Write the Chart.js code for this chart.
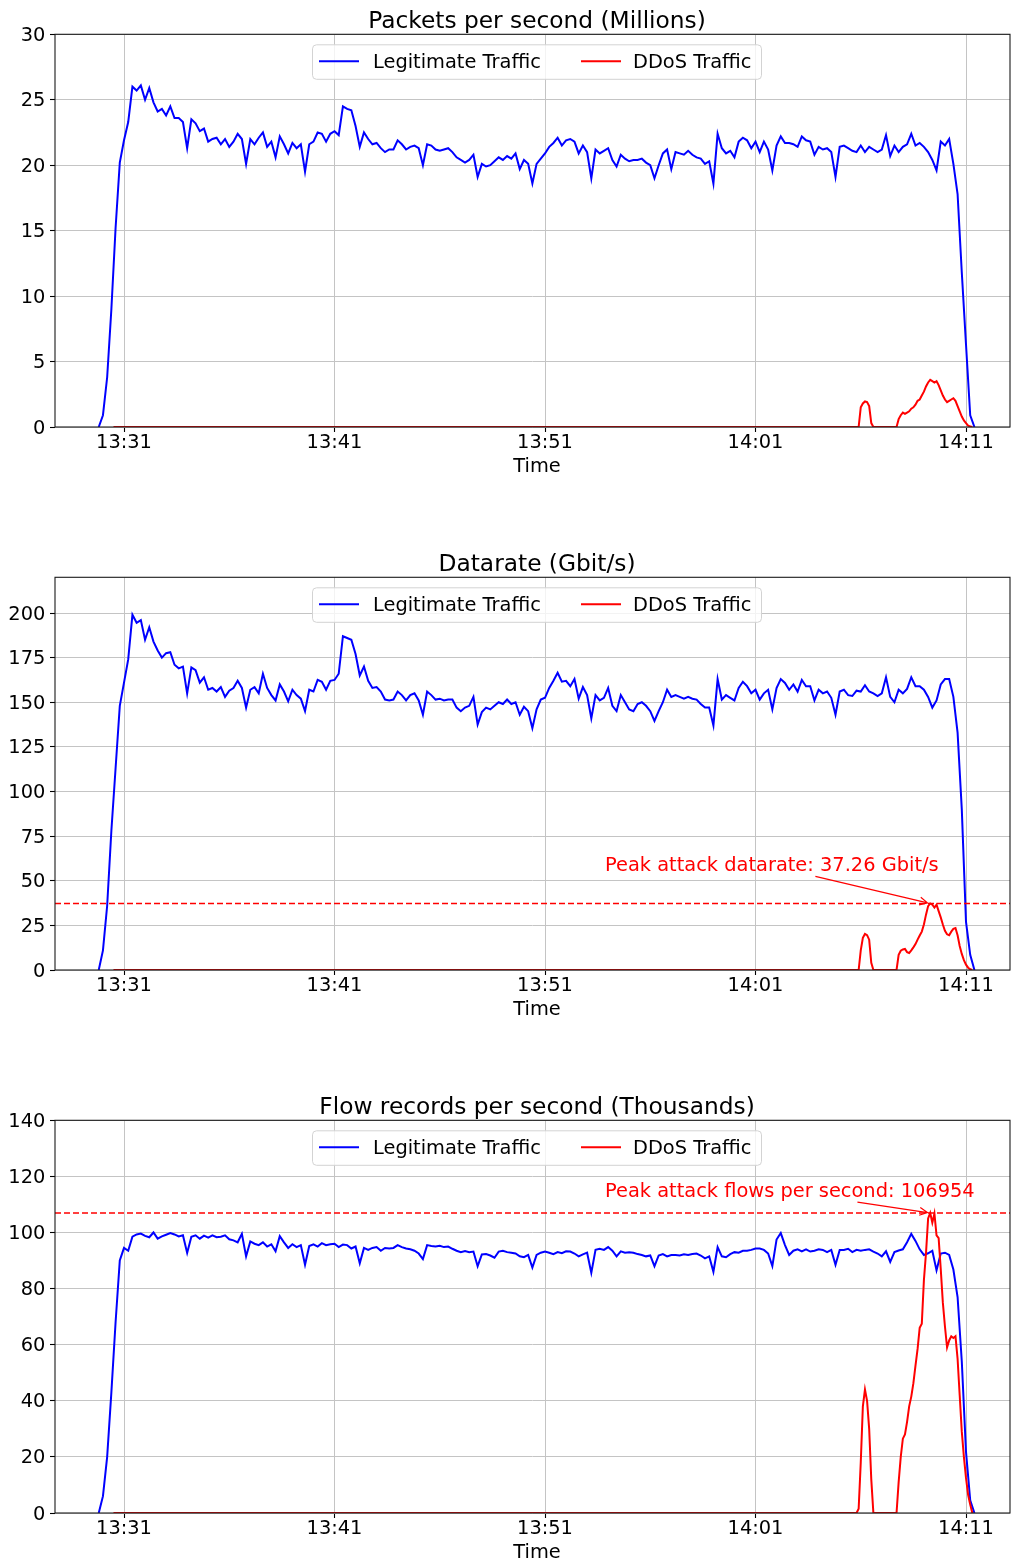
<!DOCTYPE html>
<html>
<head>
<meta charset="utf-8">
<title>Legitimate vs DDoS traffic</title>
<script src="https://cdn.jsdelivr.net/npm/chart.js@4.4.1/dist/chart.umd.min.js"></script>
<style>
  html, body { margin: 0; padding: 0; background: #fff; overflow: hidden; }
  .panel { position: absolute; left: 0; width: 1011px; height: 487px; }
</style>
</head>
<body>
<div class="panel" style="top:0px"><canvas id="ppsChart" width="1011" height="487"></canvas></div>
<div class="panel" style="top:543px"><canvas id="rateChart" width="1011" height="487"></canvas></div>
<div class="panel" style="top:1086px"><canvas id="flowChart" width="1011" height="487"></canvas></div>
<script>
// time is minutes after 13:00, legit samples every 0.2 min starting 13:29:48
const START_MIN = 29.8;
const STEP_MIN = 0.2;

const xTickValues = [31, 41, 51, 61, 71];
const xTickLabels = ["13:31", "13:41", "13:51", "14:01", "14:11"];

const ppsTicks = [0, 5, 10, 15, 20, 25, 30];
const rateTicks = [0, 25, 50, 75, 100, 125, 150, 175, 200];
const flowTicks = [0, 20, 40, 60, 80, 100, 120, 140];

// Packets per second (millions)
const legitPps = [
  0,
  0.9, 3.8, 9.0, 15.2, 20.2,
  21.9, 23.3, 26.0, 25.7, 26.1,
  25.0, 25.9, 24.8, 24.1, 24.3,
  23.8, 24.5, 23.6, 23.6, 23.3,
  21.3, 23.5, 23.2, 22.6, 22.8,
  21.8, 22.0, 22.1, 21.6, 22.0,
  21.4, 21.8, 22.4, 22.0, 20.1,
  22.0, 21.6, 22.1, 22.5, 21.4,
  21.8, 20.6, 22.2, 21.6, 20.9,
  21.7, 21.3, 21.6, 19.5, 21.6,
  21.8, 22.5, 22.4, 21.8, 22.4,
  22.6, 22.3, 24.5, 24.3, 24.2,
  23.0, 21.4, 22.5, 22.0, 21.6,
  21.7, 21.3, 21.0, 21.2, 21.2,
  21.9, 21.6, 21.2, 21.4, 21.5,
  21.3, 20.0, 21.6, 21.5, 21.2,
  21.1, 21.2, 21.3, 21.0, 20.6,
  20.4, 20.2, 20.4, 20.8, 19.1,
  20.1, 19.9, 20.0, 20.3, 20.6,
  20.4, 20.7, 20.5, 20.9, 19.7,
  20.4, 20.1, 18.6, 20.1, 20.5,
  20.9, 21.4, 21.7, 22.1, 21.5,
  21.9, 22.0, 21.8, 20.9, 21.5,
  21.0, 19.0, 21.2, 20.9, 21.1,
  21.3, 20.4, 19.9, 20.8, 20.5,
  20.3, 20.4, 20.4, 20.5, 20.2,
  20.0, 19.0, 20.0, 20.9, 21.2,
  19.7, 21.0, 20.9, 20.8, 21.1,
  20.8, 20.6, 20.5, 20.1, 20.3,
  18.6, 22.4, 21.3, 20.9, 21.1,
  20.6, 21.8, 22.1, 21.9, 21.3,
  21.8, 21.0, 21.8, 21.2, 19.6,
  21.5, 22.2, 21.7, 21.7, 21.6,
  21.4, 22.2, 21.9, 21.8, 20.8,
  21.4, 21.2, 21.3, 21.0, 19.1,
  21.4, 21.5, 21.3, 21.1, 21.0,
  21.5, 21.0, 21.4, 21.2, 21.0,
  21.2, 22.3, 20.7, 21.5, 21.0,
  21.4, 21.6, 22.4, 21.5, 21.7,
  21.4, 21.0, 20.4, 19.6, 21.8,
  21.5, 22.0, 20.1, 17.8, 11.8,
  6.3, 0.9, 0
];

// Datarate (Gbit/s)
const legitRate = [
  0,
  11, 36, 78, 113, 148,
  161, 174, 199, 194.5, 196,
  185, 192, 184, 179, 175,
  177.5, 178, 171, 169, 170,
  155, 169.5, 168, 161, 164,
  157, 158, 156, 158.5, 153,
  156.5, 158, 162, 158, 147,
  157, 158.5, 155, 166, 158,
  154, 151, 160, 156, 150.5,
  157, 154, 152, 145, 157,
  156, 162.5, 161.5, 157, 162,
  162.5, 166, 187, 186, 185,
  177, 165, 170, 162, 158,
  158.5, 156, 151.5, 151, 151.5,
  156, 154, 151, 154, 155,
  151, 143, 156, 154, 151.5,
  152, 151, 151.5, 151.5, 147,
  145, 147, 148, 153, 137.5,
  144.5, 147, 146, 148, 150,
  149, 151.5, 149, 150, 143,
  147.5, 145, 135.5, 146, 151.5,
  152.5, 158, 162, 166.5, 161.5,
  162, 159, 163, 152, 158.5,
  154, 141, 154, 151, 152.5,
  158, 148, 145, 154, 150,
  146, 145, 149, 150, 148,
  145, 139.5, 145, 150, 157,
  153, 154, 153, 152, 153,
  152, 151.5, 149, 147, 147,
  137, 163, 151.5, 154, 152.5,
  151, 158, 161.5, 159, 155,
  157, 151.5, 155, 157, 146,
  158, 163, 160.8, 157, 160,
  156, 162.5, 159, 159, 151,
  157, 155, 156, 152.5, 143,
  156, 157, 154, 153.5, 156.5,
  156, 159.5, 156, 155, 153.5,
  155, 164, 153, 150, 157,
  155, 157.5, 164, 159, 159,
  157, 153, 147, 151, 160,
  163, 163, 153, 133, 90,
  27, 8.5, 0
];

// Flow records per second (thousands)
const legitFlows = [
  0,
  6, 20, 43, 68, 90,
  94.5, 93.5, 98.5, 99.3, 99.6,
  98.8, 98.3, 100, 97.8, 98.6,
  99.2, 99.8, 99.3, 98.6, 99.0,
  92.7, 98.5, 99.0, 97.8, 98.9,
  98.2, 99.0, 98.3, 98.5, 99.0,
  97.6, 97.2, 96.5, 99.5, 91.5,
  96.8, 96.0, 95.5, 96.5, 95.0,
  95.8, 93.3, 98.7, 96.5, 94.5,
  95.8, 94.8, 95.5, 88.5, 95.2,
  95.8, 95.0, 96.2, 95.5, 95.8,
  96.0, 94.8, 95.7, 95.5, 94.3,
  95.0, 89.0, 94.5, 93.8, 94.5,
  94.8, 93.5, 94.5, 94.3, 94.5,
  95.5, 94.8, 94.3, 94.0, 93.5,
  92.5, 90.5, 95.5, 95.2, 95.0,
  95.3, 94.8, 95.0, 94.2, 93.5,
  93.0, 93.4, 93.0, 93.2, 88.0,
  92.2, 92.3, 91.8, 91.0, 93.2,
  93.5, 93.0, 92.8, 92.5, 91.5,
  91.2, 92.0, 87.5, 92.0, 92.8,
  93.2, 92.8, 92.3, 93.0, 92.6,
  93.3, 93.2, 92.5, 91.5, 92.2,
  92.8, 85.6, 93.8, 94.2, 93.8,
  94.8, 93.5, 91.5, 93.3, 92.8,
  93.0, 92.8, 92.3, 92.0, 91.5,
  91.8, 88.0, 91.8, 92.3, 91.5,
  92.0, 92.0, 91.8, 92.2, 92.0,
  92.3, 92.5, 91.8, 90.8, 91.5,
  86.0, 94.8, 91.5, 91.2, 92.3,
  93.0, 92.8, 93.5, 93.5, 93.8,
  94.3, 94.3, 93.8, 92.5, 88.0,
  97.5, 99.8, 95.5, 92.0, 93.5,
  94.0, 93.3, 94.0, 93.2, 93.5,
  94.0, 93.8, 93.0, 93.8, 88.5,
  93.8, 93.8, 94.2, 93.0, 93.8,
  93.5, 93.8, 94.0, 93.2, 92.5,
  91.5, 93.3, 89.5, 93.0, 93.6,
  94.0, 96.5, 99.5, 97.0, 94.0,
  92.0, 92.6, 93.5, 86.5, 92.5,
  92.8, 92.0, 86.8, 77, 54,
  21.8, 4.5, 0
];

// DDoS samples (minutes after 13:00)
const ddosTimes = [
  30.5,
  65.8, 65.9, 66.0, 66.1, 66.2, 66.3, 66.4, 66.5, 66.6,
  67.7, 67.8, 67.9, 68.0, 68.1, 68.2, 68.3, 68.4, 68.5, 68.6,
  68.7, 68.8, 68.9, 69.0, 69.1, 69.2, 69.3, 69.4, 69.5, 69.6,
  69.7, 69.8, 69.9, 70.0, 70.1, 70.2, 70.3, 70.4, 70.5, 70.6,
  70.7, 70.8, 70.9, 71.0, 71.1, 71.2, 71.3
];

const ddosPps = [
  0,
  0, 0, 1.5, 1.8, 1.95, 1.9, 1.6, 0.3, 0,
  0, 0.6, 0.9, 1.1, 1.0, 1.1, 1.2, 1.4, 1.5, 1.7,
  2.0, 2.1, 2.4, 2.7, 3.1, 3.4, 3.6, 3.5, 3.4, 3.5,
  3.2, 2.8, 2.4, 2.1, 1.9, 2.0, 2.1, 2.2, 2.0, 1.6,
  1.2, 0.8, 0.5, 0.3, 0.1, 0.05, 0
];

const ddosRate = [
  0,
  0, 0, 11, 18, 20.2, 19.5, 17, 4, 0,
  0, 8.5, 10.8, 11.5, 11.8, 10.0, 9.5, 11.0, 12.7, 14.5,
  17.0, 19.3, 21.5, 25.5, 31.0, 35.8, 37.26, 36.6, 35.0, 36.6,
  33.0, 29.5, 25.5, 22.0, 20.0, 19.5, 21.5, 23.0, 23.5, 19.5,
  13.5, 9.0, 5.5, 3.0, 1.3, 0.4, 0
];

const ddosFlows = [
  0,
  0, 1.5, 18, 38, 44, 40, 30, 12, 0,
  0, 11, 20, 26.5, 28, 32.5, 38, 41.5, 46.3, 52.5,
  58.5, 66, 67.5, 83, 92.7, 105, 106.954, 103.5, 106.8, 99,
  98, 87, 75, 66.5, 59, 61.5, 63, 62.4, 63, 55,
  42, 29, 20, 12.5, 6.5, 3, 0
];

const X_MIN = 27.722;
const X_MAX = 73.09;
const FONT = "'DejaVu Sans', 'Liberation Sans', sans-serif";
const FS = 19.4;

Chart.defaults.font.family = FONT;
Chart.defaults.color = "#000";

const legitTimes = legitPps.map((_, i) => +(START_MIN + i * STEP_MIN).toFixed(2));

const panelDecor = {
  id: "panelDecor",
  afterDatasetsDraw(chart, args, opts) {
    const { ctx, chartArea: a, scales } = chart;
    const midX = (a.left + a.right) / 2 + 4.5;
    ctx.save();

    // axes frame (all four spines)
    ctx.strokeStyle = "#1a1a1a";
    ctx.lineWidth = 1.1;
    ctx.strokeRect(a.left, a.top, a.right - a.left, a.bottom - a.top);

    // panel title and x axis label
    ctx.fillStyle = "#000";
    ctx.textAlign = "center";
    ctx.textBaseline = "middle";
    ctx.font = "23.3px " + FONT;
    ctx.fillText(opts.title, midX, a.top - 12.7);
    ctx.font = FS + "px " + FONT;
    ctx.fillText("Time", midX, a.bottom + 39.6);

    // legend, upper center inside the axes
    const lx = a.left + 257, ly = a.top + 10, lw = 449, lh = 34.5;
    ctx.fillStyle = "rgba(255,255,255,0.8)";
    ctx.strokeStyle = "#d3d3d3";
    ctx.lineWidth = 1;
    ctx.beginPath();
    if (ctx.roundRect) ctx.roundRect(lx + 0.5, ly + 0.5, lw, lh, 4);
    else ctx.rect(lx + 0.5, ly + 0.5, lw, lh);
    ctx.fill();
    ctx.stroke();

    const entries = [
      { ds: chart.data.datasets[0], x0: 7, tx: 61 },
      { ds: chart.data.datasets[1], x0: 269, tx: 321 }
    ];
    ctx.textAlign = "left";
    entries.forEach(e => {
      ctx.strokeStyle = e.ds.borderColor;
      ctx.lineWidth = 2;
      ctx.beginPath();
      ctx.moveTo(lx + e.x0, ly + 17);
      ctx.lineTo(lx + e.x0 + 40, ly + 17);
      ctx.stroke();
      ctx.fillStyle = "#000";
      ctx.fillText(e.ds.label, lx + e.tx, ly + 18.3);
    });

    // peak annotation with arrow
    if (opts.peak) {
      const p = opts.peak;
      const tx = scales.x.getPixelForValue(p.textAt.x);
      const ty = scales.y.getPixelForValue(p.textAt.y);
      ctx.fillStyle = "#ff0000";
      ctx.textBaseline = "alphabetic";
      ctx.fillText(p.text, tx, ty);
      const w = ctx.measureText(p.text).width;
      const top = ty - 0.76 * FS, bot = ty + 0.236 * FS;
      const cx = tx + w / 2, cy = (top + bot) / 2;
      const px = scales.x.getPixelForValue(p.at.x);
      const py = scales.y.getPixelForValue(p.at.y);
      const dx = px - cx, dy = py - cy, len = Math.hypot(dx, dy);
      const ux = dx / len, uy = dy / len;
      let tExit = 1;
      if (dx > 0) tExit = Math.min(tExit, (tx + w - cx) / dx);
      if (dx < 0) tExit = Math.min(tExit, (tx - cx) / dx);
      if (dy > 0) tExit = Math.min(tExit, (bot - cy) / dy);
      if (dy < 0) tExit = Math.min(tExit, (top - cy) / dy);
      const sx = cx + dx * tExit + ux * 2.8, sy = cy + dy * tExit + uy * 2.8;
      const ex = px - ux * 2.8, ey = py - uy * 2.8;
      const hl = 7.8, hw = 3.9;
      ctx.strokeStyle = "#ff0000";
      ctx.lineWidth = 1.2;
      ctx.beginPath();
      ctx.moveTo(sx, sy);
      ctx.lineTo(ex, ey);
      ctx.moveTo(ex - ux * hl - uy * hw, ey - uy * hl + ux * hw);
      ctx.lineTo(ex, ey);
      ctx.lineTo(ex - ux * hl + uy * hw, ey - uy * hl - ux * hw);
      ctx.stroke();
    }
    ctx.restore();
  }
};

function makePanel(id, title, legit, ddos, yMax, yTicks, peakCfg) {
  const datasets = [
    {
      label: "Legitimate Traffic",
      data: legitTimes.map((t, i) => ({ x: t, y: legit[i] })),
      borderColor: "#0000ff",
      borderWidth: 2,
      pointRadius: 0,
      order: 2
    },
    {
      label: "DDoS Traffic",
      data: ddosTimes.map((t, i) => ({ x: t, y: ddos[i] })),
      borderColor: "#ff0000",
      borderWidth: 2,
      pointRadius: 0,
      order: 1
    }
  ];

  let peak = null;
  if (peakCfg) {
    const maxVal = Math.max(...ddos);
    const maxT = ddosTimes[ddos.indexOf(maxVal)];
    datasets.push({
      label: "peak",
      data: [{ x: X_MIN, y: maxVal }, { x: X_MAX, y: maxVal }],
      borderColor: "#ff0000",
      borderWidth: 1.5,
      borderDash: [6, 3],
      pointRadius: 0,
      order: 0
    });
    peak = { text: peakCfg.label(maxVal), textAt: peakCfg.textAt, at: { x: maxT, y: maxVal } };
  }

  return new Chart(document.getElementById(id), {
    type: "line",
    data: { datasets },
    plugins: [panelDecor],
    options: {
      responsive: false,
      animation: false,
      layout: { padding: { left: 0, right: 1, top: 34.3, bottom: 0 } },
      plugins: {
        legend: { display: false },
        tooltip: { enabled: false },
        title: { display: false },
        panelDecor: { title, peak }
      },
      scales: {
        x: {
          type: "linear",
          min: X_MIN,
          max: X_MAX,
          afterBuildTicks: s => { s.ticks = xTickValues.map(v => ({ value: v })); },
          afterFit: s => { s.height = 60; },
          ticks: {
            font: { size: FS, lineHeight: 1 },
            padding: 1.6,
            maxRotation: 0,
            autoSkip: false,
            callback: v => xTickLabels[xTickValues.indexOf(v)]
          },
          grid: { color: "#c4c4c4", lineWidth: 1, tickLength: 5, tickColor: "#000", tickWidth: 1.1 },
          border: { display: false }
        },
        y: {
          min: 0,
          max: yMax,
          afterBuildTicks: s => { s.ticks = yTicks.map(v => ({ value: v })); },
          afterFit: s => { s.width = 55; },
          ticks: { font: { size: FS }, padding: 4.7, labelOffset: 1.5, callback: v => String(v) },
          grid: { color: "#c4c4c4", lineWidth: 1, tickLength: 5, tickColor: "#000", tickWidth: 1.1 },
          border: { display: false }
        }
      }
    }
  });
}

makePanel("ppsChart", "Packets per second (Millions)", legitPps, ddosPps, 30, ppsTicks, null);
makePanel("rateChart", "Datarate (Gbit/s)", legitRate, ddosRate, 220, rateTicks, {
  label: v => "Peak attack datarate: " + v.toFixed(2) + " Gbit/s",
  textAt: { x: 53.85, y: 55.4 }
});
makePanel("flowChart", "Flow records per second (Thousands)", legitFlows, ddosFlows, 140, flowTicks, {
  label: v => "Peak attack flows per second: " + Math.round(v * 1000),
  textAt: { x: 53.85, y: 112.6 }
});
</script>
</body>
</html>
